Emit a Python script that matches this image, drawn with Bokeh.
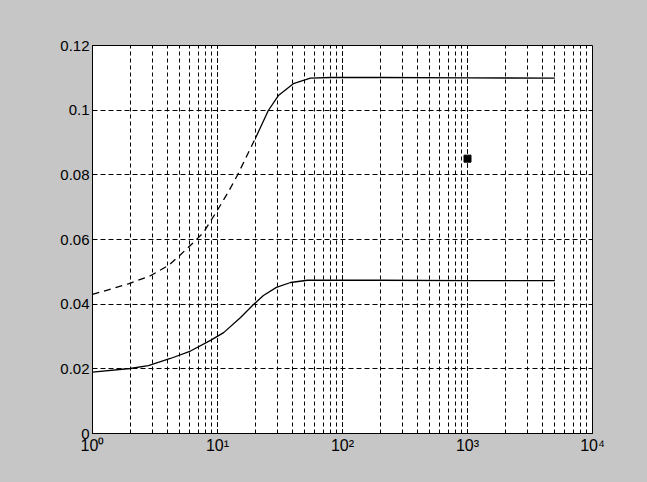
import numpy as np
from bokeh.plotting import figure
from bokeh.models import FixedTicker, LogTicker
from bokeh.embed import file_html
from bokeh.resources import INLINE

# ---- data ----
upper_x = [1, 1.94, 2.91, 4.06, 5.06, 6.43, 7.73, 9.6, 12.0, 14.4, 20.2, 25.5, 30.7,
           40.4, 55.4, 80, 200, 1000, 5000]
upper_y = [0.0430, 0.0463, 0.0488, 0.0520, 0.0553, 0.0591, 0.0622, 0.0680, 0.0742, 0.0798,
           0.0915, 0.0999, 0.1045, 0.1082, 0.1099, 0.1101, 0.1101, 0.1100, 0.1099]
upper_dash_end = 10  # index where the printed curve turns from dashed to solid

lower_x = [1, 2.0, 2.8, 4.2, 6.08, 8.79, 11.2, 15.3, 19.05, 23.3, 29.6, 38.4, 52.5,
           80, 200, 1000, 5000]
lower_y = [0.0190, 0.0201, 0.0210, 0.0232, 0.0255, 0.0288, 0.0312, 0.0359, 0.0396,
           0.0427, 0.0452, 0.0467, 0.0474, 0.0474, 0.0474, 0.0473, 0.0473]

marker_x = [1000]
marker_y = [0.085]

y_ticks = [0, 0.02, 0.04, 0.06, 0.08, 0.10, 0.12]
y_tick_labels = ["0", "0.02", "0.04", "0.06", "0.08", "0.1", "0.12"]
x_ticks = [1, 10, 100, 1000, 10000]
x_tick_labels = ["10\u2070", "10\u00b9", "10\u00b2", "10\u00b3", "10\u2074"]

BG = "#c6c6c6"
FONT = "Liberation Sans"

p = figure(width=647, height=482, x_axis_type="log",
           x_range=(1, 10000), y_range=(0, 0.12),
           output_backend="svg", toolbar_location=None,
           min_border_left=92, min_border_right=55,
           min_border_top=45, min_border_bottom=49)
p.background_fill_color = "white"
p.border_fill_color = BG
p.outline_line_color = "black"
p.outline_line_width = 1

# axes
p.xaxis.ticker = x_ticks
p.xaxis.major_label_overrides = {t: l for t, l in zip(x_ticks, x_tick_labels)}
p.yaxis.ticker = FixedTicker(ticks=y_ticks)
p.yaxis.major_label_overrides = {t: l for t, l in zip(y_ticks, y_tick_labels)}
for ax in (p.xaxis, p.yaxis):
    ax.axis_line_color = "black"
    ax.major_tick_in = 4
    ax.major_tick_out = 0
    ax.minor_tick_in = 0
    ax.minor_tick_out = 0
    ax.major_label_text_font = FONT
    ax.major_label_text_font_size = "15px"
    ax.major_label_text_color = "black"
p.xaxis.major_label_text_font_size = "16px"
p.xaxis.major_label_standoff = 3
p.yaxis.major_label_standoff = 3

# grid
p.xgrid.ticker = LogTicker(num_minor_ticks=10)
p.xgrid.grid_line_color = "black"
p.xgrid.grid_line_dash = "4 3"
p.xgrid.minor_grid_line_color = "black"
p.xgrid.minor_grid_line_dash = "4 3"
p.ygrid.ticker = FixedTicker(ticks=y_ticks)
p.ygrid.grid_line_color = "black"
p.ygrid.grid_line_dash = "5 3"

# curves
p.line(upper_x[:upper_dash_end + 1], upper_y[:upper_dash_end + 1],
       line_color="black", line_width=1.3, line_dash="7 5")
p.line(upper_x[upper_dash_end:], upper_y[upper_dash_end:],
       line_color="black", line_width=1.3)
p.line(lower_x, lower_y, line_color="black", line_width=1.3)
p.scatter(marker_x, marker_y, marker="square", size=7, color="black")

template = """{% block preamble %}<style>html, body {background-color: """ + BG + """;}</style>{% endblock %}"""
open("out.html", "w").write(file_html(p, INLINE, template=template))
